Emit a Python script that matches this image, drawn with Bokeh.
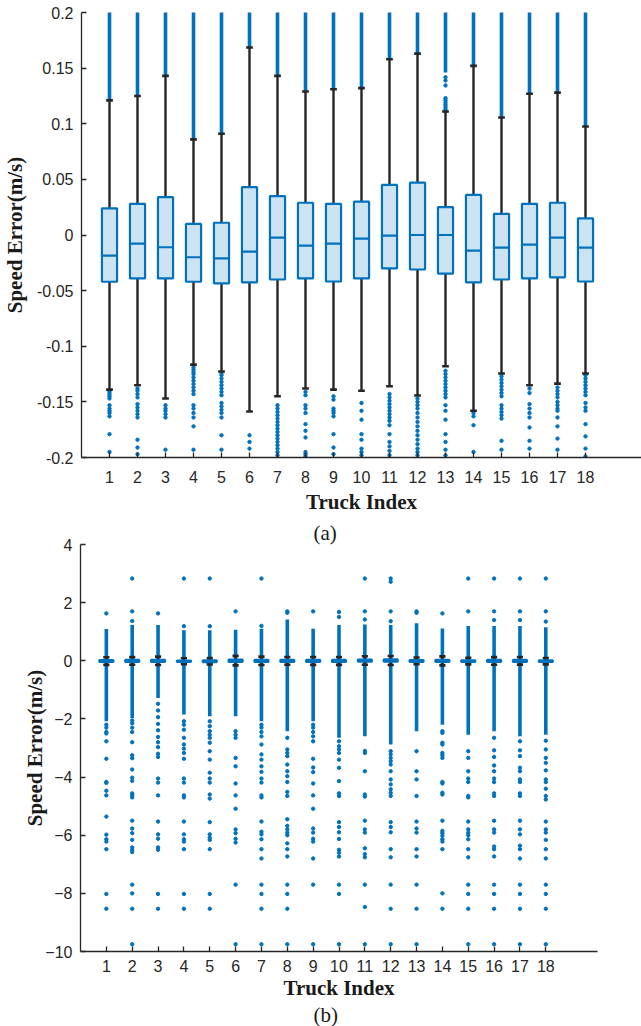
from bokeh.plotting import figure
from bokeh.models import Range1d, FixedTicker, CustomJSTickFormatter, Title
from bokeh.embed import file_html
from bokeh.resources import INLINE

# ---------------- data ----------------
trucks = list(range(1, 19))
x_tick_labels = [str(t) for t in trucks]

whisk_hi = [0.121, 0.125, 0.143, 0.086, 0.091, 0.1685, 0.143, 0.129, 0.131,
            0.132, 0.158, 0.163, 0.111, 0.152, 0.1056, 0.127, 0.128, 0.0975]
q3 = [0.024, 0.028, 0.034, 0.010, 0.011, 0.043, 0.035, 0.029, 0.028,
      0.030, 0.045, 0.047, 0.025, 0.036, 0.019, 0.028, 0.029, 0.015]
med = [-0.0185, -0.0077, -0.011, -0.020, -0.021, -0.015, -0.0023, -0.0095, -0.0077,
       -0.0032, -0.0005, 0.0, 0.0, -0.014, -0.0113, -0.0086, -0.0023, -0.0113]
q1 = [-0.042, -0.039, -0.039, -0.042, -0.0435, -0.0425, -0.040, -0.039, -0.0418,
      -0.039, -0.030, -0.031, -0.0347, -0.0425, -0.040, -0.039, -0.038, -0.0418]
whisk_lo = [-0.139, -0.135, -0.147, -0.1165, -0.1227, -0.1587, -0.145, -0.138, -0.139,
            -0.140, -0.136, -0.1443, -0.118, -0.158, -0.1245, -0.135, -0.1336, -0.1245]

# (a) dense band of high outliers starts here (truck 13 has a gap)
upper_dense_start_a = [0.121, 0.125, 0.143, 0.086, 0.091, 0.1685, 0.143, 0.129, 0.131,
                       0.132, 0.158, 0.163, 0.146, 0.152, 0.1056, 0.127, 0.128, 0.0975]
upper_extra_a_truck = [13, 13, 13, 13, 13, 13, 13, 13, 13, 13]
upper_extra_a_value = [0.111, 0.113, 0.115, 0.117, 0.119, 0.121, 0.123, 0.1344, 0.1389, 0.1418]

# (a) low outliers seen between the lower whisker and -0.2
lower_outliers_a = [
    [-0.141, -0.143, -0.145, -0.147, -0.153, -0.156, -0.158, -0.160, -0.163, -0.179, -0.195],
    [-0.138, -0.140, -0.143, -0.146, -0.152, -0.155, -0.158, -0.161, -0.164, -0.184, -0.191, -0.197],
    [-0.153, -0.156, -0.158, -0.161, -0.164, -0.193],
    [-0.119, -0.121, -0.123, -0.125, -0.128, -0.131, -0.134, -0.137, -0.140, -0.143, -0.153, -0.156,
     -0.160, -0.164, -0.172, -0.193],
    [-0.124, -0.126, -0.129, -0.132, -0.135, -0.138, -0.141, -0.144, -0.151, -0.154, -0.157, -0.160,
     -0.164, -0.180, -0.193],
    [-0.180, -0.186, -0.192],
    [-0.153, -0.156, -0.159, -0.162, -0.165, -0.168, -0.171, -0.174, -0.177, -0.180, -0.183, -0.186,
     -0.189, -0.192, -0.195, -0.198],
    [-0.141, -0.144, -0.153, -0.156, -0.160, -0.170, -0.176, -0.182, -0.195, -0.197, -0.199],
    [-0.145, -0.148, -0.156, -0.158, -0.160, -0.163, -0.179, -0.191, -0.197],
    [-0.151, -0.158, -0.166, -0.179, -0.184, -0.192, -0.195, -0.198],
    [-0.143, -0.146, -0.149, -0.152, -0.155, -0.158, -0.161, -0.164, -0.167, -0.171, -0.179, -0.186,
     -0.190, -0.194, -0.198],
    [-0.147, -0.150, -0.153, -0.156, -0.160, -0.164, -0.168, -0.172, -0.176, -0.180, -0.184, -0.188,
     -0.192, -0.195, -0.198],
    [-0.122, -0.125, -0.128, -0.131, -0.134, -0.137, -0.140, -0.143, -0.146, -0.153, -0.158, -0.166,
     -0.179, -0.186, -0.193, -0.198],
    [-0.160, -0.163, -0.171, -0.195],
    [-0.127, -0.130, -0.133, -0.136, -0.139, -0.142, -0.145, -0.153, -0.156, -0.159, -0.162, -0.165,
     -0.185, -0.193],
    [-0.138, -0.142, -0.152, -0.156, -0.160, -0.164, -0.173, -0.185, -0.192],
    [-0.137, -0.140, -0.143, -0.146, -0.150, -0.153, -0.156, -0.158, -0.164, -0.172, -0.183, -0.193],
    [-0.126, -0.129, -0.132, -0.135, -0.138, -0.141, -0.144, -0.151, -0.155, -0.158, -0.170, -0.181,
     -0.192, -0.199],
]

# (b) dense core of outliers (top and bottom)
core_hi = [1.09, 1.23, 1.23, 1.05, 1.05, 1.07, 1.10, 1.42, 1.10,
           1.23, 1.25, 1.23, 1.29, 1.11, 1.20, 1.20, 1.20, 1.15]
core_lo = [-2.08, -1.97, -1.28, -1.85, -1.91, -1.91, -2.08, -2.42, -2.08,
           -2.65, -2.60, -2.88, -2.42, -2.20, -2.54, -2.42, -2.60, -2.54]

# (b) isolated outliers
outliers_b = [
    [1.63, -2.2, -2.3, -2.45, -2.5, -2.77, -3.37, -4.17, -4.2, -4.47, -4.63, -5.36, -5.98, -6.14,
     -6.22, -6.48, -8.02, -8.53],
    [2.83, 1.7, 1.37, -2.05, -2.15, -2.3, -2.45, -2.8, -3.25, -3.35, -3.74, -4.02, -4.13, -4.56,
     -4.63, -4.7, -5.5, -5.77, -5.93, -6.16, -6.42, -6.5, -6.58, -7.7, -8.0, -8.53, -9.75],
    [1.63, -1.48, -1.71, -1.94, -2.17, -2.39, -2.62, -2.8, -2.97, -3.2, -3.31, -4.05, -4.19, -4.63,
     -5.53, -5.97, -6.12, -6.42, -6.5, -8.02, -8.53],
    [2.83, 1.19, -2.08, -2.2, -2.37, -2.65, -2.88, -3.02, -3.17, -3.37, -4.05, -4.19, -4.63, -4.7,
     -5.53, -5.97, -6.14, -6.22, -6.48, -8.02, -8.53],
    [2.83, 1.19, -2.08, -2.25, -2.42, -2.54, -2.65, -2.82, -3.11, -3.4, -3.85, -4.05, -4.19, -4.6,
     -4.74, -5.55, -5.97, -6.08, -6.16, -6.48, -8.02, -8.53],
    [1.7, -2.42, -2.54, -2.65, -3.34, -3.63, -4.22, -4.63, -5.09, -5.8, -5.93, -6.12, -6.25, -7.7,
     -9.75],
    [2.83, 1.2, -2.2, -2.3, -2.45, -2.6, -2.88, -3.22, -3.4, -3.63, -3.82, -4.05, -4.19, -4.63,
     -4.7, -5.53, -5.88, -5.97, -6.14, -6.48, -6.8, -7.7, -8.02, -8.53, -9.75],
    [1.7, 1.65, -2.65, -3.05, -3.17, -3.28, -3.57, -3.8, -3.97, -4.17, -4.51, -4.65, -5.45, -5.68,
     -5.8, -5.91, -6.0, -6.28, -6.48, -6.73, -7.7, -8.02, -8.53, -9.75],
    [1.7, -2.2, -2.3, -2.45, -2.6, -2.77, -3.37, -3.67, -3.83, -4.22, -4.63, -5.09, -5.77, -5.91,
     -6.12, -6.22, -6.8, -7.7, -9.75],
    [1.68, 1.51, -2.77, -2.94, -3.05, -3.17, -3.4, -3.68, -4.14, -4.56, -4.65, -5.55, -5.72, -5.9,
     -6.13, -6.5, -6.6, -6.73, -7.7, -8.02, -9.75],
    [2.83, 1.7, 1.42, -3.1, -3.17, -3.8, -4.6, -4.67, -5.5, -5.8, -5.91, -6.45, -6.65, -6.76, -7.7,
     -8.47, -9.75],
    [2.83, 2.72, 1.7, 1.36, -3.11, -3.22, -3.34, -3.45, -3.57, -3.8, -4.08, -4.25, -4.42, -4.54,
     -4.65, -5.55, -5.72, -5.9, -6.48, -6.76, -7.7, -8.53, -9.75],
    [1.7, 1.65, -3.11, -3.8, -4.08, -4.65, -5.53, -5.77, -5.91, -6.48, -6.73, -7.7, -8.53, -9.75],
    [1.63, -2.42, -2.48, -2.82, -2.88, -3.17, -3.25, -3.34, -4.17, -4.22, -4.54, -4.6, -5.5, -5.85,
     -5.93, -6.02, -6.14, -6.22, -6.48, -8.0, -8.53],
    [2.83, 1.7, -3.11, -3.34, -3.8, -4.05, -4.17, -4.65, -4.7, -5.53, -5.8, -5.91, -6.0, -6.14,
     -6.48, -6.76, -7.7, -8.02, -8.53, -9.75],
    [2.83, 1.7, 1.4, -2.65, -3.08, -3.31, -3.6, -3.8, -4.05, -4.17, -4.56, -4.65, -5.5, -5.8, -5.91,
     -6.39, -6.48, -6.73, -7.7, -8.02, -8.53, -9.75],
    [2.83, 1.7, 1.4, -2.77, -3.08, -3.28, -3.68, -3.8, -4.08, -4.17, -4.56, -4.65, -5.5, -5.8, -5.97,
     -6.36, -6.48, -6.8, -7.7, -8.02, -8.53, -9.75],
    [2.83, 1.7, 1.35, -2.75, -3.05, -3.34, -3.51, -3.77, -4.08, -4.17, -4.4, -4.65, -4.77, -5.53,
     -5.8, -5.91, -6.16, -6.48, -6.8, -7.7, -8.02, -8.53, -9.75],
]

y_ticks_a = [-0.2, -0.15, -0.1, -0.05, 0, 0.05, 0.1, 0.15, 0.2]
y_ticks_b = [-10, -8, -6, -4, -2, 0, 2, 4]

# ---------------- styles ----------------
BLUE = "#0072BD"
FILL = "#cce3f2"
DARK = "#262626"
TICK_FONT = "Liberation Sans"
LABEL_FONT = "Liberation Serif"


def style_axes(p, yticks):
    p.xaxis.ticker = FixedTicker(ticks=trucks)
    p.xaxis.major_label_overrides = {t: s for t, s in zip(trucks, x_tick_labels)}
    p.yaxis.ticker = FixedTicker(ticks=yticks)
    for ax in (p.xaxis[0], p.yaxis[0]):
        ax.axis_line_color = DARK
        ax.axis_line_width = 1.3
        ax.major_tick_line_color = DARK
        ax.major_tick_line_width = 1.3
        ax.major_tick_in = 5
        ax.major_tick_out = 0
        ax.minor_tick_line_color = None
        ax.major_label_text_font = TICK_FONT
        ax.major_label_text_font_size = "16px"
        ax.major_label_text_color = DARK
        ax.axis_label_text_font = LABEL_FONT
        ax.axis_label_text_font_size = "21px"
        ax.axis_label_text_font_style = "bold"
        ax.axis_label_text_color = "#1a1a1a"
    p.yaxis.major_label_standoff = 8
    p.xaxis.axis_label = "Truck Index"
    p.yaxis.axis_label = "Speed Error(m/s)"
    p.xgrid.grid_line_color = None
    p.ygrid.grid_line_color = None
    p.outline_line_color = None
    p.background_fill_color = "white"
    p.border_fill_color = "white"


def draw_boxes(p):
    cap = 0.12
    half = 0.27
    p.segment(x0=trucks, y0=q3, x1=trucks, y1=whisk_hi, line_color=DARK, line_width=2.4)
    p.segment(x0=trucks, y0=q1, x1=trucks, y1=whisk_lo, line_color=DARK, line_width=2.4)
    p.segment(x0=[t - cap for t in trucks], y0=whisk_hi, x1=[t + cap for t in trucks], y1=whisk_hi,
              line_color=DARK, line_width=2.6)
    p.segment(x0=[t - cap for t in trucks], y0=whisk_lo, x1=[t + cap for t in trucks], y1=whisk_lo,
              line_color=DARK, line_width=2.6)
    p.quad(left=[t - half for t in trucks], right=[t + half for t in trucks], top=q3, bottom=q1,
           fill_color=FILL, line_color=BLUE, line_width=2.2)
    p.segment(x0=[t - half for t in trucks], y0=med, x1=[t + half for t in trucks], y1=med,
              line_color=BLUE, line_width=2.2)


# ---------------- panel (a) ----------------
p1 = figure(width=641, height=518, output_backend="svg", toolbar_location=None,
            x_range=Range1d(0, 20), y_range=Range1d(-0.2, 0.2),
            min_border_left=80, min_border_right=0, min_border_top=12, min_border_bottom=61)
style_axes(p1, y_ticks_a)
p1.xaxis.major_label_standoff = 13
p1.xaxis.axis_label_standoff = 4
p1.yaxis.axis_label_standoff = 7
p1.yaxis.formatter = CustomJSTickFormatter(code="return String(Math.round(tick*100)/100);")

p1.segment(x0=trucks, y0=upper_dense_start_a, x1=trucks, y1=core_hi,
           line_color=BLUE, line_width=3.6)
p1.scatter(x=upper_extra_a_truck, y=upper_extra_a_value, size=3.4, color=BLUE)
xa = [t for t, vals in zip(trucks, lower_outliers_a) for v in vals]
ya = [v for vals in lower_outliers_a for v in vals]
p1.scatter(x=xa, y=ya, size=3.4, color=BLUE)
draw_boxes(p1)

# ---------------- panel (b) ----------------
p2 = figure(width=641, height=508, output_backend="svg", toolbar_location=None,
            x_range=Range1d(0, 20), y_range=Range1d(-10, 4),
            min_border_left=80, min_border_right=44, min_border_top=26, min_border_bottom=73)
style_axes(p2, y_ticks_b)
p2.xaxis.major_label_standoff = 8
p2.xaxis.axis_label_standoff = 1
p2.yaxis.axis_label_standoff = -5

p2.segment(x0=trucks, y0=core_lo, x1=trucks, y1=core_hi, line_color=BLUE, line_width=3.6)
xb = [t for t, vals in zip(trucks, outliers_b) for v in vals]
yb = [v for vals in outliers_b for v in vals]
p2.scatter(x=xb, y=yb, size=3.4, color=BLUE)
draw_boxes(p2)

# caption of panel (a) sits just above panel (b); caption (b) below it
p2.add_layout(Title(text="(a)", align="left", offset=233, standoff=0, text_font=LABEL_FONT,
                    text_font_size="21px", text_font_style="normal", text_color="#1a1a1a"), "above")
p2.add_layout(Title(text="(b)", align="left", offset=233, standoff=-2, vertical_align="middle",
                    text_font=LABEL_FONT, text_font_size="21px", text_font_style="normal",
                    text_color="#1a1a1a"), "below")

open("out.html", "w").write(file_html([p1, p2], INLINE))
